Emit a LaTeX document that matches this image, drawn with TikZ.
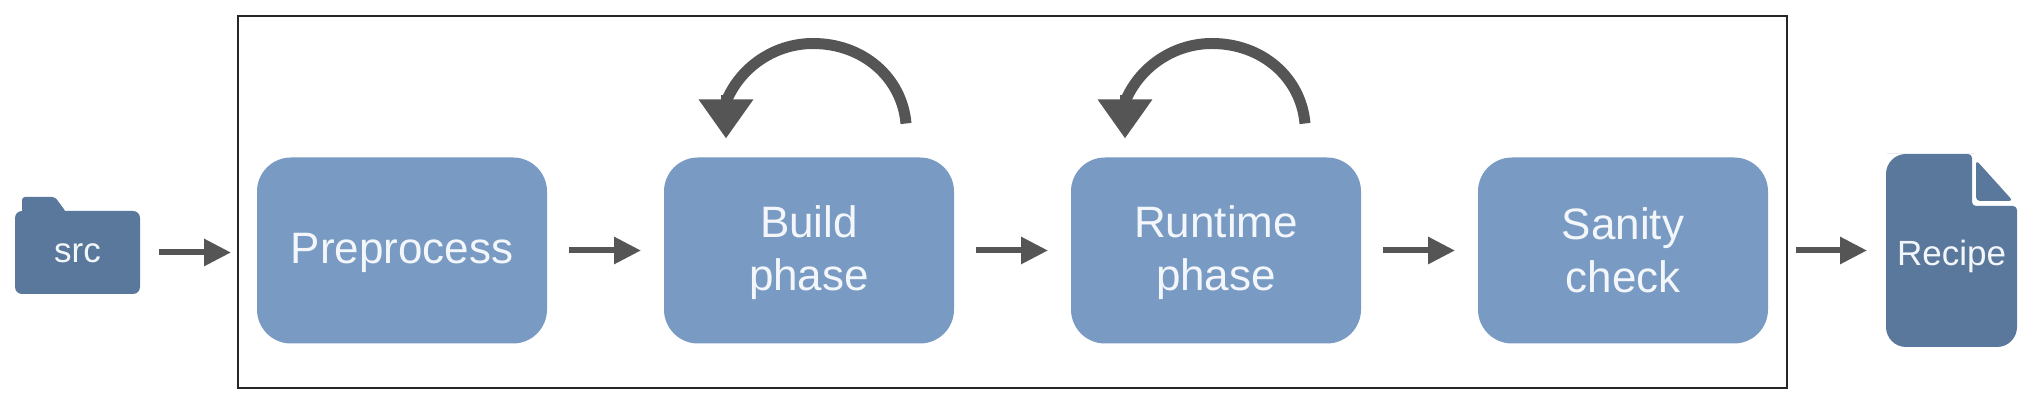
\documentclass[tikz,border=0pt]{standalone}
\usepackage{fontspec}
\setmainfont{Liberation Sans}
\usetikzlibrary{arrows.meta,positioning,calc}
\definecolor{azul}{RGB}{120,154,195}
\definecolor{pizarra}{RGB}{90,120,155}
\definecolor{grisf}{RGB}{85,85,85}
\definecolor{blanco}{RGB}{243,246,250}
\newcommand{\puntal}{\rule[-2.5pt]{0pt}{20.5pt}}
\tikzset{
  caja/.style={fill=azul, rounded corners=17pt, align=center, minimum width=145pt, minimum height=93pt, inner sep=0pt, outer sep=0pt, text=blanco, font=\fontsize{22}{26.5}\selectfont},
  marco/.style={draw=black!85, line width=1.2pt, minimum width=774.5pt, minimum height=186pt, inner sep=0pt, outer sep=0pt},
  icono/.style={inner sep=0pt, outer sep=0pt, text=blanco, font=\fontsize{17.5}{21}\selectfont},
  fl/.style={-{Triangle[length=13.5pt,width=13pt]}, line width=3pt, grisf},
  arco/.style={line width=5.5pt, grisf},
  vuelta/.style={-{Triangle[length=19.5pt,width=26pt]}, line width=5.5pt, grisf},
}

\begin{document}
\begin{tikzpicture}[x=0.5pt,y=-0.5pt,node distance=3mm and 58.5pt]
  \useasboundingbox (0,0) rectangle (2036,410);
  \fill[white] (0,0) rectangle (2036,410);
  \node[marco] (pipeline) at (1012.5,202) {};
  \node[caja, anchor=west] (pre) at (257,250.5) {Preprocess\puntal};
  \node[caja, right=of pre] (build) {Build\puntal\\phase\puntal};
  \node[caja, right=of build] (runtime) {Runtime\puntal\\phase\puntal};
  \node[caja, right=of runtime] (sanity) {Sanity\puntal\\check\puntal};
  % folder
  \fill[pizarra, rounded corners=1.5pt] (22,225) -- (22,197) -- (55,197) -- (66,212) -- (66,225) -- cycle;
  \node[icono, fill=pizarra, rounded corners=3.5pt, minimum width=62.5pt, minimum height=41.5pt, text height=12.5pt, text depth=2pt] (src) at (77.5,252.5) {src};
  % file
  \fill[pizarra, rounded corners=5pt] (1970,154) -- (1897,154) [rounded corners=10pt] -- (1886,154) -- (1886,347) -- (2017,347) [rounded corners=2pt] -- (2017,206) -- (1972,206) -- (1972,154) -- cycle;
  \fill[pizarra, rounded corners=2pt] (1976,160) -- (1976,201) -- (2013,201) -- cycle;
  \node[icono, minimum width=65.5pt, minimum height=96.5pt, text height=17.5pt, text depth=2pt] (recipe) at (1951.5,250.5) {Recipe};
  % arrows
  \draw[fl, shorten <=9.5pt, shorten >=3.5pt] (src) -- (src -| pipeline.west);
  \draw[fl, shorten <=11pt, shorten >=11.5pt] (pre) -- (build);
  \draw[fl, shorten <=11pt, shorten >=11.5pt] (build) -- (runtime);
  \draw[fl, shorten <=11pt, shorten >=11.5pt] (runtime) -- (sanity);
  \draw[fl, shorten <=4.5pt, shorten >=9.5pt] (recipe -| pipeline.east) -- (recipe);
  % self loops
  \foreach \fase/\des in {build/0,runtime/-8}{
    \coordinate (\fase a) at ($(\fase.north)+(97+\des,-34)$);
    \coordinate (\fase c) at ($(\fase.north)+(4+\des,-114)$);
    \coordinate (\fase d) at ($(\fase.north)+(-82+\des,-58)$);
    \coordinate (\fase e) at ($(\fase.north)+(-83+\des,-62)$);
    \coordinate (\fase b) at ($(\fase.north)+(-83+\des,-19)$);
    \draw[arco] (\fase a) .. controls +(-4,-46) and +(50,0) .. (\fase c)
      .. controls +(-37,0) and +(15,-34) .. (\fase d);
    \draw[vuelta] (\fase e) -- (\fase b);
  }
\end{tikzpicture}
\end{document}
